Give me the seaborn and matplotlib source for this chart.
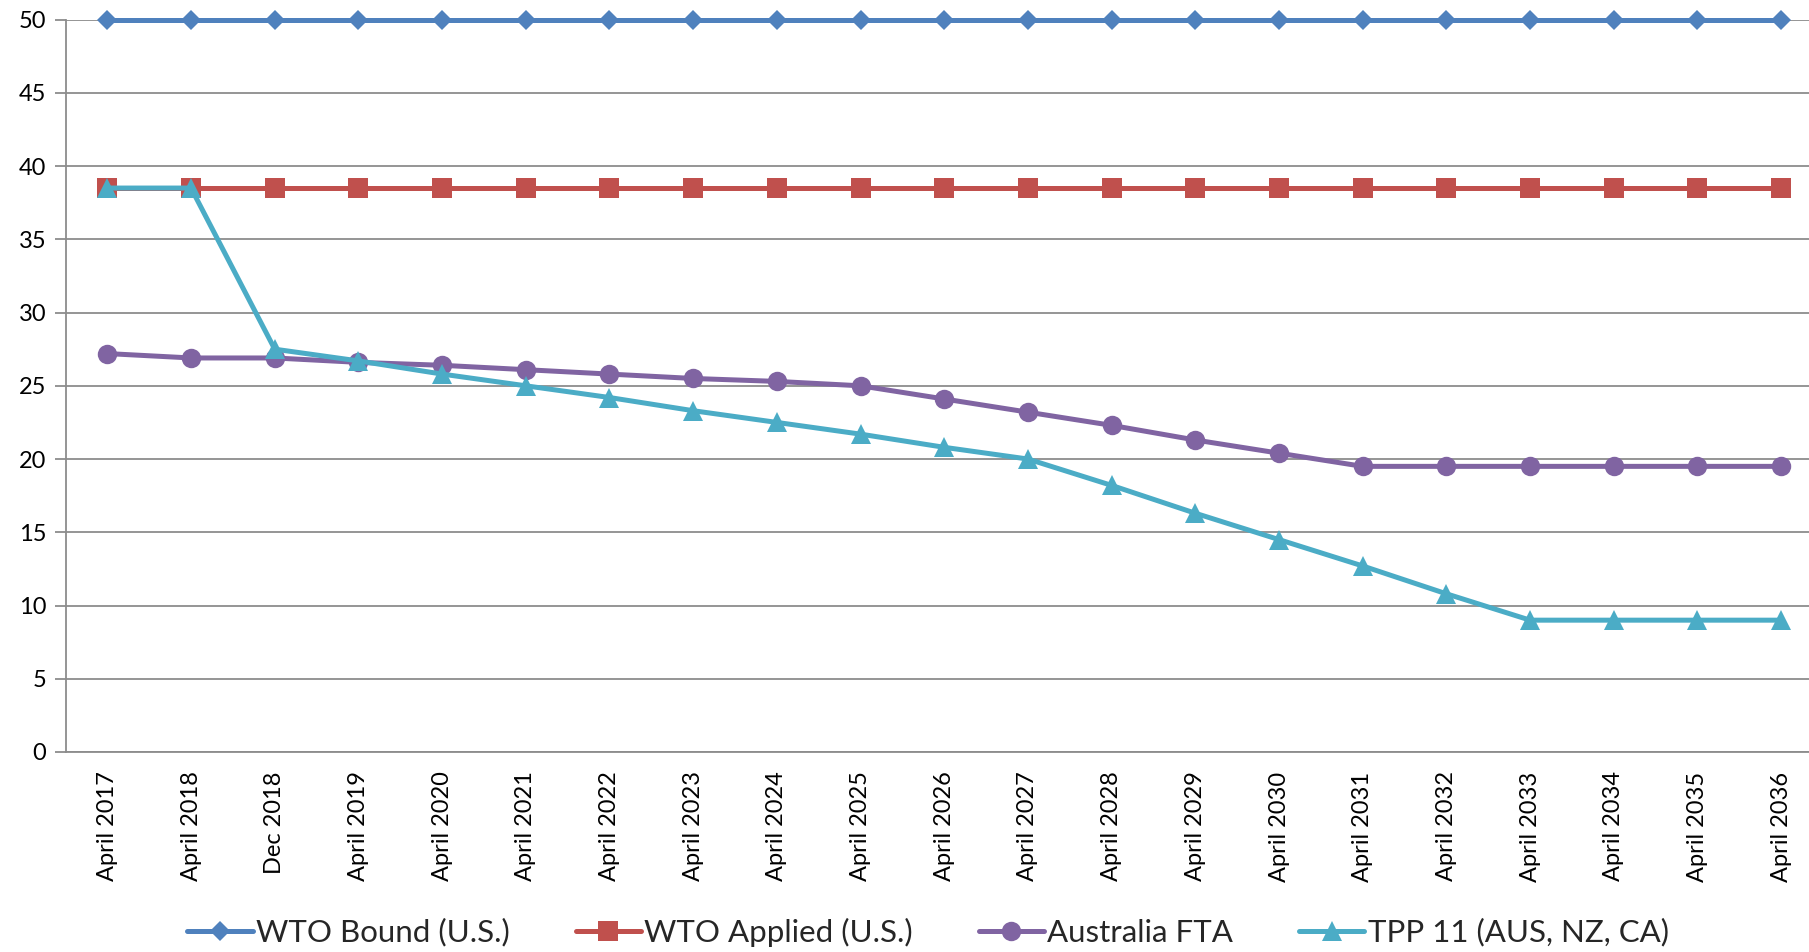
import numpy as np
import pandas as pd
import matplotlib
matplotlib.use("Agg")
import matplotlib.pyplot as plt
import seaborn as sns

categories = ["April 2017", "April 2018", "Dec 2018", "April 2019", "April 2020",
              "April 2021", "April 2022", "April 2023", "April 2024", "April 2025",
              "April 2026", "April 2027", "April 2028", "April 2029", "April 2030",
              "April 2031", "April 2032", "April 2033", "April 2034", "April 2035",
              "April 2036"]
wto_bound = [50.0] * 21
wto_applied = [38.5] * 21
australia_fta = [27.2, 26.9, 26.9, 26.6, 26.4, 26.1, 25.8, 25.5, 25.3, 25.0,
                 24.1, 23.2, 22.3, 21.3, 20.4, 19.5, 19.5, 19.5, 19.5, 19.5, 19.5]
tpp11 = [38.5, 38.5, 27.5, 26.7, 25.8, 25.0, 24.2, 23.3, 22.5, 21.7, 20.8,
         20.0, 18.2, 16.3, 14.5, 12.7, 10.8, 9.0, 9.0, 9.0, 9.0]
series_names = ["WTO Bound (U.S.)", "WTO Applied (U.S.)", "Australia FTA",
                "TPP 11 (AUS, NZ, CA)"]
y_ticks = [0, 5, 10, 15, 20, 25, 30, 35, 40, 45, 50]

colors = ["#4F81BD", "#C0504D", "#8064A2", "#4BACC6"]
markers = ["D", "s", "o", "^"]
msizes = [10, 14, 14, 14]

sns.set_theme(style="white")
plt.rcParams["font.family"] = ["Lato", "DejaVu Sans"]

fig = plt.figure(figsize=(18.09, 9.52), dpi=100)
ax = fig.add_axes([65.5 / 1809, 1 - 752 / 952, (1823 - 65.5) / 1809, (752 - 19.6) / 952])

xpos = np.arange(len(categories))
values = [wto_bound, wto_applied, australia_fta, tpp11]
df = pd.DataFrame({"x": np.tile(xpos, 4),
                   "value": np.concatenate(values),
                   "series": np.repeat(series_names, len(categories))})

for name, col, mk, ms in zip(series_names, colors, markers, msizes):
    sub = df[df["series"] == name]
    sns.lineplot(data=sub, x="x", y="value", ax=ax, color=col, marker=mk,
                 markersize=ms, markeredgewidth=0, linewidth=3.6, label=name,
                 legend=False, sort=False, clip_on=False)

grid_col = "#8C8C8C"
ax.set_xlim(-0.5, len(categories) - 0.5)
ax.set_ylim(0, 50)
ax.set_yticks(y_ticks)
ax.set_yticklabels([str(v) for v in y_ticks], fontsize=17, color="black")
ax.yaxis.grid(True, color=grid_col, linewidth=1.3)
ax.set_axisbelow(True)

ax.set_xticks(xpos)
ax.set_xticklabels(categories, rotation=90, fontsize=17, color="black")
ax.set_xticks(np.arange(-0.5, len(categories)), minor=True)
ax.tick_params(axis="x", which="major", length=0, pad=14)
ax.tick_params(axis="x", which="minor", length=8, width=1.3, color=grid_col)
ax.tick_params(axis="y", which="major", length=8, width=1.3, color=grid_col,
               left=True, pad=6)
ax.set_xlabel("")
ax.set_ylabel("")
for s in ["top", "right"]:
    ax.spines[s].set_visible(False)
for s in ["left", "bottom"]:
    ax.spines[s].set_color(grid_col)
    ax.spines[s].set_linewidth(1.3)

handles, labels = ax.get_legend_handles_labels()
fig.legend(handles, labels, loc="center", ncol=4, frameon=False,
           bbox_to_anchor=(928 / 1809, 1 - 932 / 952), fontsize=22.5,
           handlelength=2.1, handletextpad=0.1, columnspacing=2.1)

fig.savefig("out.png", dpi=100)
